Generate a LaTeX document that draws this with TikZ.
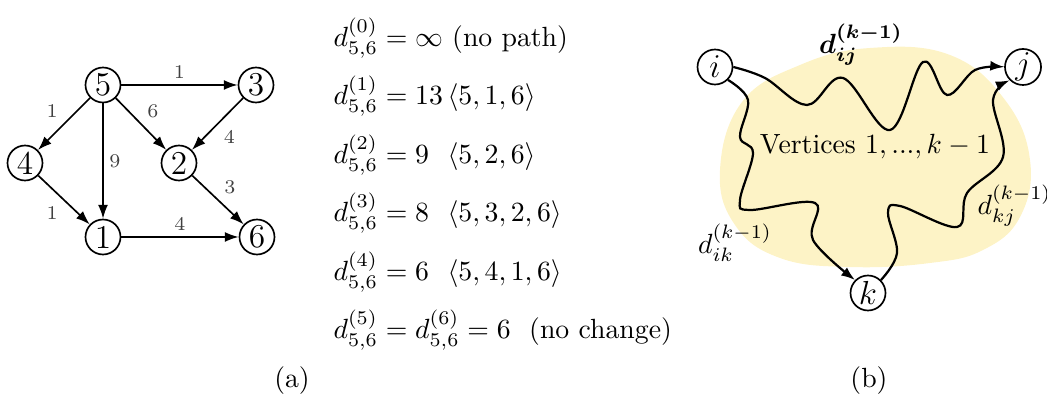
\documentclass[tikz,border=0pt]{standalone}
\usepackage{amsmath,amssymb}
\usepackage{bm}
\usetikzlibrary{arrows.meta,positioning}
\definecolor{blobyellow}{RGB}{253,243,198}

\begin{document}
\begin{tikzpicture}[x={(0.36pt,0)}, y={(0,-0.36pt)}, >={Latex[length=5pt,width=3.6pt]},
  vertex/.style={draw, circle, semithick, minimum size=12.6pt, inner sep=0.5pt, font=\large},
  wlabel/.style={font=\scriptsize, black!75, inner sep=2pt},
  edgeline/.style={->, semithick},
  waveline/.style={->, thick},
  eqline/.style={anchor=base west, inner sep=0pt}]
  \useasboundingbox (0,0) rectangle (1047,399);
  % (a) example graph
  \node[vertex] (v5) at (103, 85)  {5};
  \node[vertex] (v3) at (256, 85)  {3};
  \node[vertex] (v4) at (25, 163)  {4};
  \node[vertex] (v2) at (179, 163) {2};
  \node[vertex] (v1) at (103, 237) {1};
  \node[vertex] (v6) at (257, 237) {6};
  \draw[edgeline] (v5) -- node[wlabel, above]{1} (v3);
  \draw[edgeline] (v5) -- node[wlabel, above left]{1} (v4);
  \draw[edgeline] (v5) -- node[wlabel, right]{9} (v1);
  \draw[edgeline] (v5) -- node[wlabel, above right]{6} (v2);
  \draw[edgeline] (v3) -- node[wlabel, below right]{4} (v2);
  \draw[edgeline] (v4) -- node[wlabel, below left]{1} (v1);
  \draw[edgeline] (v2) -- node[wlabel, above right]{3} (v6);
  \draw[edgeline] (v1) -- node[wlabel, above]{4} (v6);
  % distances d_{5,6}^{(k)}
  \node[eqline] (d0) at (333, 47)  {$d^{(0)}_{5,6} = \infty\ \text{(no path)}$};
  \node[eqline] (d1) at (333, 105) {$d^{(1)}_{5,6} = 13\,\langle 5,1,6\rangle$};
  \node[eqline] (d2) at (333, 164) {$d^{(2)}_{5,6} = 9\ \ \langle 5,2,6\rangle$};
  \node[eqline] (d3) at (333, 222) {$d^{(3)}_{5,6} = 8\ \ \langle 5,3,2,6\rangle$};
  \node[eqline] (d4) at (333, 281) {$d^{(4)}_{5,6} = 6\ \ \langle 5,4,1,6\rangle$};
  \node[eqline] (d5) at (333, 339) {$d^{(5)}_{5,6} = d^{(6)}_{5,6} = 6\ \ \text{(no change)}$};
  \node (capa) at (292, 381) {(a)};
  % (b) intermediate vertices
  \fill[blobyellow] plot[smooth cycle, tension=0.7] coordinates {
    (720,170) (742,102) (800,65) (870,48) (950,55) (1005,100) (1030,160)
    (1020,217) (983,250) (930,263) (850,267) (780,258) (735,225)};
  \node[vertex] (ni) at (715, 67)  {$i$};
  \node[vertex] (nj) at (1023, 67) {$j$};
  \node[vertex] (nk) at (868, 293) {$k$};
  \draw[waveline] plot[smooth, tension=0.6] coordinates {(ni.east) (765,78) (807,105)
    (843,78) (890,130) (923,62) (947,95) (975,70) (nj.west)};
  \draw[waveline] plot[smooth, tension=0.6] coordinates {(ni.south east) (748,100)
    (740,137) (753,153) (740,200) (750,210) (815,203) (813,240) (nk.north west)};
  \draw[waveline] plot[smooth, tension=0.6] coordinates {(nk.north east) (897,253)
    (888,213) (900,206) (957,227) (967,193) (1003,157) (993,100) (nj.south west)};
  \node (lij) at (861, 45) {$\bm{d^{(k-1)}_{ij}}$};
  \node (lik) at (735, 243) {$d^{(k-1)}_{ik}$};
  \node[anchor=west, inner sep=0pt] (lkj) at (977, 206) {$d^{(k-1)}_{kj}$};
  \node (verts) at (875, 147) {Vertices $1,...,k-1$};
  \node (capb) at (869, 381) {(b)};
\end{tikzpicture}
\end{document}
